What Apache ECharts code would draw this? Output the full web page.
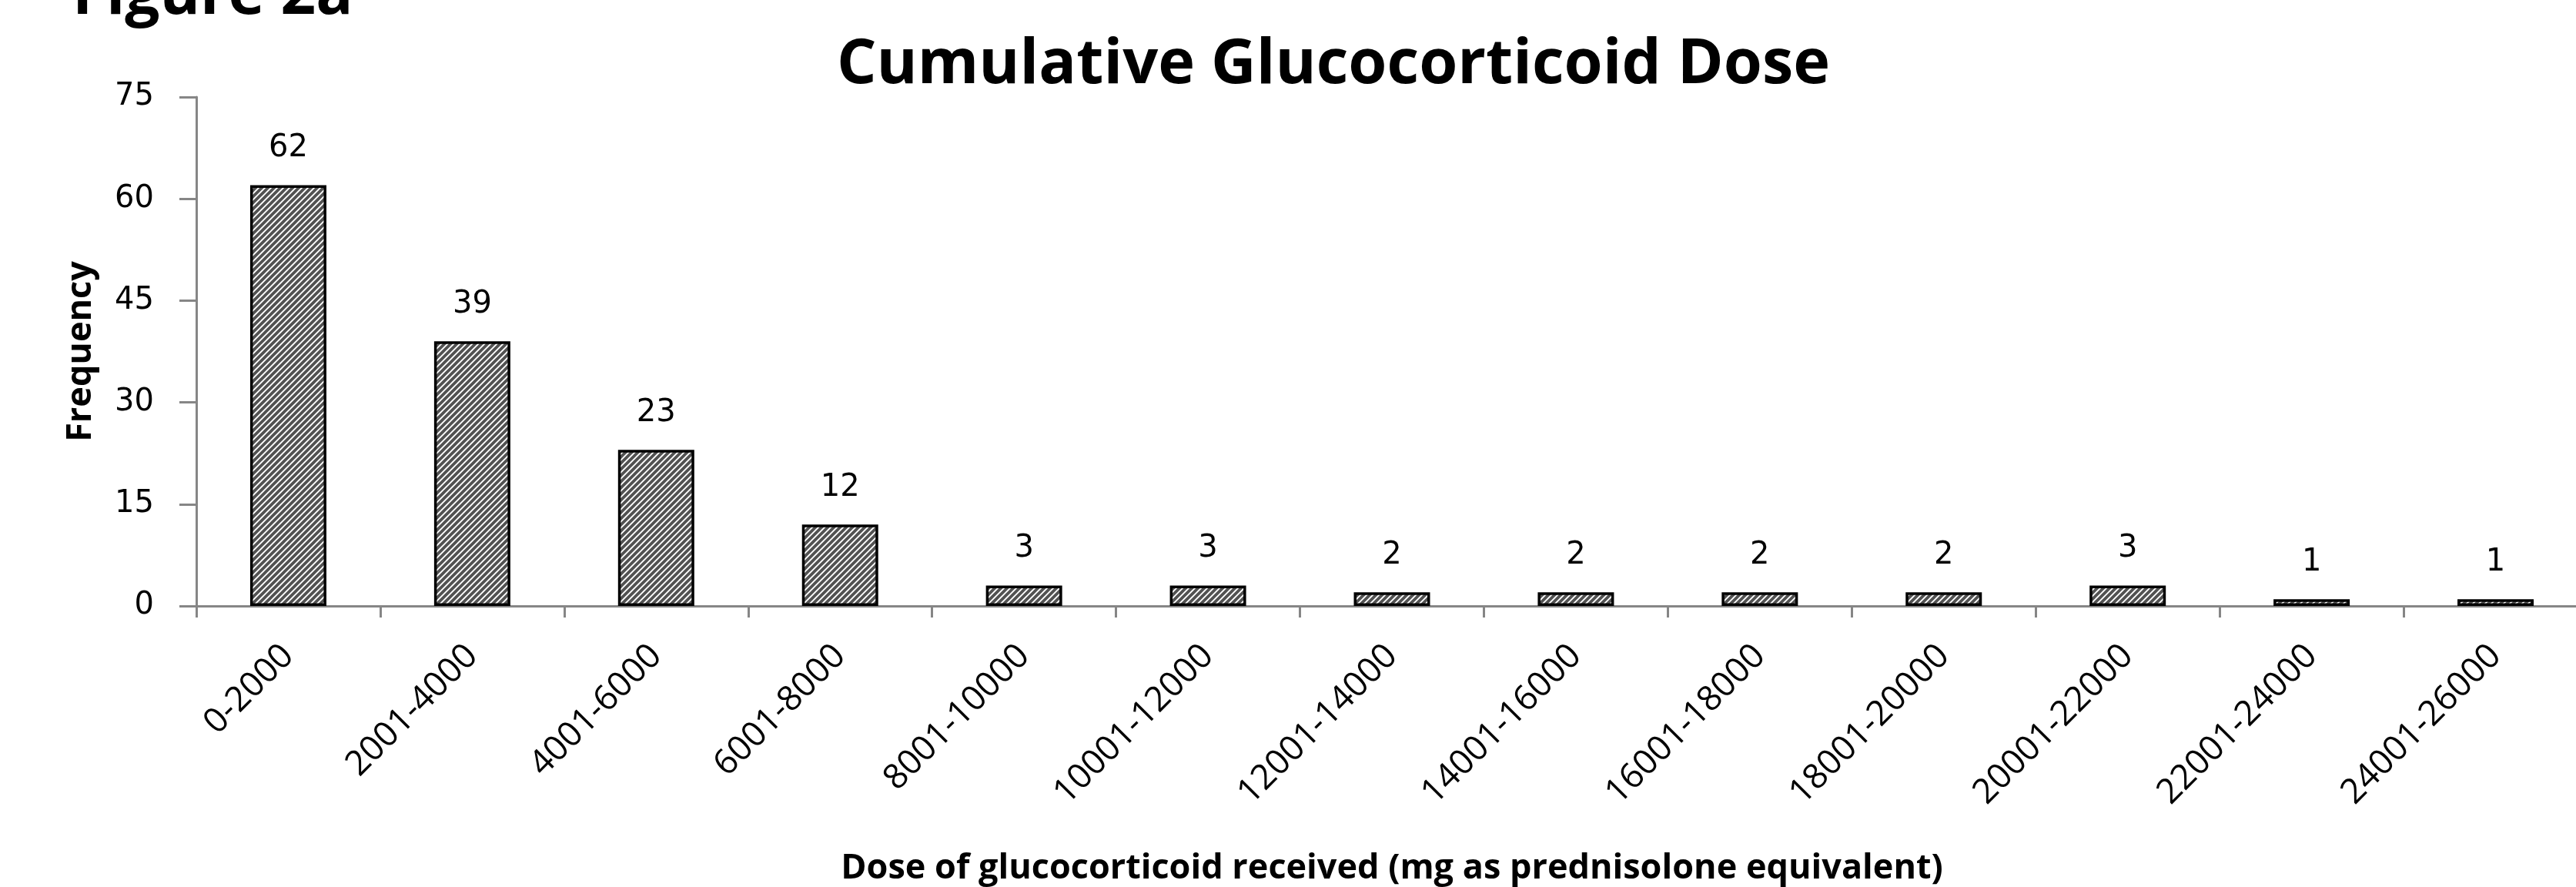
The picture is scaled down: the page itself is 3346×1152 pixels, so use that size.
<!DOCTYPE html>
<html>
<head>
<meta charset="utf-8">
<title>Cumulative Glucocorticoid Dose</title>
<script src="https://cdn.jsdelivr.net/npm/echarts@6/dist/echarts.min.js"></script>
<style>
html,body{margin:0;padding:0;background:#fff;}
#chart{width:3346px;height:1152px;}
</style>
</head>
<body>
<div id="chart"></div>
<script>
// dose bands (mg prednisolone equivalent)
var doseBands = ['0-2000','2001-4000','4001-6000','6001-8000','8001-10000','10001-12000',
	'12001-14000','14001-16000','16001-18000','18001-20000','20001-22000','22001-24000','24001-26000'];
// number of patients per band
var frequency = [62,39,23,12,3,3,2,2,2,2,3,1,1];
var yTicks = {min:0, max:75, step:15};

var AXIS_GREY = '#868686';

//hatch fill like the excel "wide upward diagonal"
function makeHatch(){
	var size = 8;
	var cv = document.createElement('canvas');
	cv.width = size;
	cv.height = size;
	var ctx = cv.getContext('2d');
	ctx.fillStyle = '#fff';
	ctx.fillRect(0,0,size,size);
	ctx.strokeStyle = '#525252';
	ctx.lineWidth = 3.8;
	ctx.beginPath();
	ctx.moveTo(-2,2);
	ctx.lineTo(2,-2);
	ctx.moveTo(0,size);
	ctx.lineTo(size,0);
	ctx.moveTo(size-2,size+2);
	ctx.lineTo(size+2,size-2);
	ctx.stroke();
	return cv;
}

var myChart = echarts.init(document.getElementById('chart'));

myChart.setOption({
	animation:false,
	backgroundColor:'#fff',
	title:{
		text:'Cumulative Glucocorticoid Dose',
		left:1732,
		textAlign:'center',
		top:44,
		padding:0,
		textStyle:{
			fontFamily:'Open Sans',
			fontWeight:'bold',
			fontSize:81,
			color:'#000'
		}
	},
	graphic:[
		{
			type:'text',
			left:94,
			top:-45,
			style:{
				text:'Figure 2a',
				font:'bold 80px "Open Sans"',
				fill:'#000'
			}
		}
	],
	grid:{
		left:255,
		top:126,
		right:-15,
		bottom:365,
		outerBoundsMode:'none'
	},
	xAxis:{
		type:'category',
		data:doseBands,
		name:'Dose of glucocorticoid received (mg as prednisolone equivalent)',
		nameLocation:'middle',
		nameGap:319,
		nameTextStyle:{
			fontFamily:'Open Sans',
			fontWeight:'bold',
			fontSize:45,
			color:'#000'
		},
		axisLine:{lineStyle:{color:AXIS_GREY,width:3}},
		axisTick:{show:true,length:15,lineStyle:{color:AXIS_GREY,width:3}},
		axisLabel:{
			rotate:45,
			margin:58,
			interval:0,
			fontFamily:'Open Sans',
			fontSize:45,
			color:'#000'
		}
	},
	yAxis:{
		type:'value',
		min:yTicks.min,
		max:yTicks.max,
		interval:yTicks.step,
		name:'Frequency',
		nameLocation:'middle',
		nameRotate:90,
		nameGap:127,
		nameTextStyle:{
			fontFamily:'Open Sans',
			fontWeight:'bold',
			fontSize:45,
			color:'#000'
		},
		splitLine:{show:false},
		axisLine:{show:true,lineStyle:{color:AXIS_GREY,width:3}},
		axisTick:{show:true,length:22,lineStyle:{color:AXIS_GREY,width:3}},
		axisLabel:{
			margin:55,
			fontFamily:'DejaVu Sans',
			fontSize:40,
			color:'#000'
		}
	},
	series:[
		{
			type:'bar',
			data:frequency,
			barWidth:99,
			itemStyle:{
				color:{image:makeHatch(),repeat:'repeat'},
				borderColor:'#000',
				borderWidth:3.5
			},
			label:{
				show:true,
				position:'top',
				distance:28,
				fontFamily:'DejaVu Sans',
				fontSize:40,
				color:'#000'
			}
		}
	]
});
</script>
</body>
</html>
